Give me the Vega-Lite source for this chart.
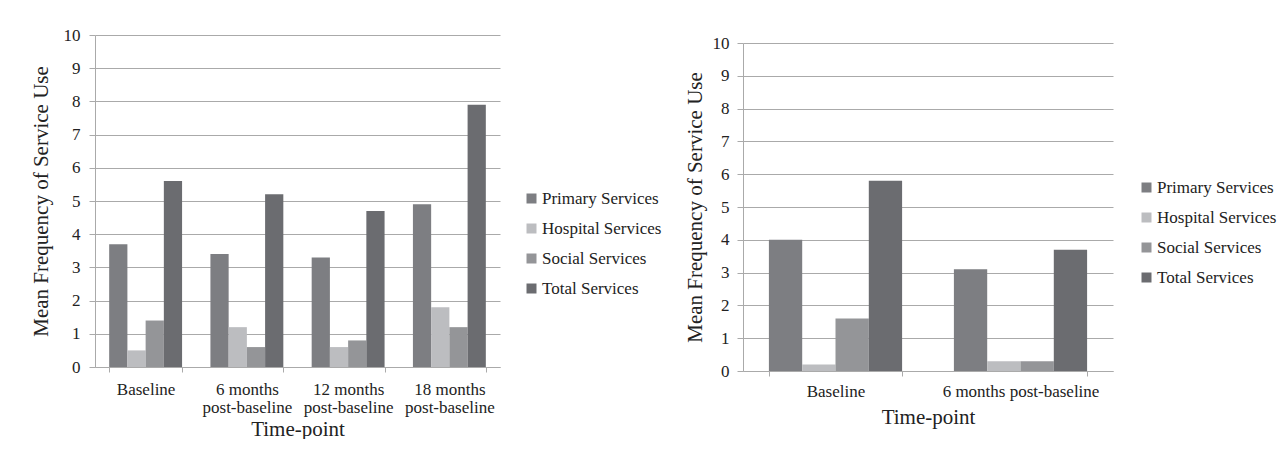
{
  "$schema": "https://vega.github.io/schema/vega-lite/v6.json",
  "background": "white",
  "padding": {"left": 30, "top": 26, "right": 0, "bottom": 0},
  "bounds": "flush",
  "spacing": 243,
  "datasets": {
    "left": [
      {"timepoint": "Baseline", "service": "Primary Services", "value": 3.7},
      {"timepoint": "Baseline", "service": "Hospital Services", "value": 0.5},
      {"timepoint": "Baseline", "service": "Social Services", "value": 1.4},
      {"timepoint": "Baseline", "service": "Total Services", "value": 5.6},
      {"timepoint": "6 months post-baseline", "service": "Primary Services", "value": 3.4},
      {"timepoint": "6 months post-baseline", "service": "Hospital Services", "value": 1.2},
      {"timepoint": "6 months post-baseline", "service": "Social Services", "value": 0.6},
      {"timepoint": "6 months post-baseline", "service": "Total Services", "value": 5.2},
      {"timepoint": "12 months post-baseline", "service": "Primary Services", "value": 3.3},
      {"timepoint": "12 months post-baseline", "service": "Hospital Services", "value": 0.6},
      {"timepoint": "12 months post-baseline", "service": "Social Services", "value": 0.8},
      {"timepoint": "12 months post-baseline", "service": "Total Services", "value": 4.7},
      {"timepoint": "18 months post-baseline", "service": "Primary Services", "value": 4.9},
      {"timepoint": "18 months post-baseline", "service": "Hospital Services", "value": 1.8},
      {"timepoint": "18 months post-baseline", "service": "Social Services", "value": 1.2},
      {"timepoint": "18 months post-baseline", "service": "Total Services", "value": 7.9}
    ],
    "right": [
      {"timepoint": "Baseline", "service": "Primary Services", "value": 4.0},
      {"timepoint": "Baseline", "service": "Hospital Services", "value": 0.2},
      {"timepoint": "Baseline", "service": "Social Services", "value": 1.6},
      {"timepoint": "Baseline", "service": "Total Services", "value": 5.8},
      {"timepoint": "6 months post-baseline", "service": "Primary Services", "value": 3.1},
      {"timepoint": "6 months post-baseline", "service": "Hospital Services", "value": 0.3},
      {"timepoint": "6 months post-baseline", "service": "Social Services", "value": 0.3},
      {"timepoint": "6 months post-baseline", "service": "Total Services", "value": 3.7}
    ]
  },
  "config": {
    "font": "Liberation Serif",
    "view": {"stroke": null},
    "axis": {
      "labelFont": "Liberation Serif",
      "titleFont": "Liberation Serif",
      "labelColor": "#222222",
      "titleColor": "#222222",
      "labelFontSize": 17,
      "titleFontSize": 21,
      "titleFontWeight": "normal",
      "domainColor": "#aaaaaa",
      "tickColor": "#aaaaaa",
      "gridColor": "#aaaaaa",
      "gridWidth": 1
    },
    "legend": {
      "labelFont": "Liberation Serif",
      "labelFontSize": 17,
      "labelColor": "#222222",
      "symbolType": "square",
      "symbolSize": 100,
      "symbolStrokeWidth": 0,
      "labelOffset": 2,
      "rowPadding": 12,
      "padding": 0
    }
  },
  "hconcat": [
    {
      "width": 405,
      "height": 332,
      "data": {"name": "left"},
      "mark": {"type": "bar"},
      "encoding": {
        "x": {
          "field": "timepoint",
          "type": "nominal",
          "sort": null,
          "title": "Time-point",
          "scale": {"paddingInner": 0.28, "paddingOuter": 0.14},
          "axis": {
            "labelAngle": 0,
            "tickBand": "extent",
            "tickSize": 5,
            "labelPadding": 9,
            "labelLineHeight": 18,
            "labelBaseline": "top",
            "labelExpr": "datum.value ? split(replace(datum.value, ' post-', '|post-'), '|') : ''",
            "titlePadding": 3
          }
        },
        "xOffset": {
          "field": "service",
          "sort": ["Primary Services", "Hospital Services", "Social Services", "Total Services"],
          "scale": {"paddingInner": 0, "paddingOuter": 0}
        },
        "y": {
          "field": "value",
          "type": "quantitative",
          "title": "Mean Frequency of Service Use",
          "scale": {"domain": [0, 10]},
          "axis": {"values": [0,1,2,3,4,5,6,7,8,9,10], "tickSize": 6, "labelPadding": 9, "titlePadding": 12}
        },
        "color": {
          "field": "service",
          "type": "nominal",
          "sort": ["Primary Services", "Hospital Services", "Social Services", "Total Services"],
          "scale": {
            "domain": ["Primary Services", "Hospital Services", "Social Services", "Total Services"],
            "range": ["#7d7e82", "#bcbdc0", "#949598", "#6b6c70"]
          },
          "legend": {"title": null, "orient": "none", "legendX": 428, "legendY": 155}
        }
      }
    },
    {
      "width": 370,
      "height": 336,
      "data": {"name": "right"},
      "mark": {"type": "bar"},
      "encoding": {
        "x": {
          "field": "timepoint",
          "type": "nominal",
          "sort": null,
          "title": "Time-point",
          "scale": {"paddingInner": 0.28, "paddingOuter": 0.14},
          "axis": {
            "labelAngle": 0,
            "tickBand": "extent",
            "tickSize": 5,
            "labelPadding": 7,
            "labelBaseline": "top",
            "titlePadding": 7
          }
        },
        "xOffset": {
          "field": "service",
          "sort": ["Primary Services", "Hospital Services", "Social Services", "Total Services"],
          "scale": {"paddingInner": 0, "paddingOuter": 0}
        },
        "y": {
          "field": "value",
          "type": "quantitative",
          "title": "Mean Frequency of Service Use",
          "scale": {"domain": [0, 10], "range": [336, 8]},
          "axis": {"values": [0,1,2,3,4,5,6,7,8,9,10], "tickSize": 6, "labelPadding": 8, "titlePadding": 7}
        },
        "color": {
          "field": "service",
          "type": "nominal",
          "sort": ["Primary Services", "Hospital Services", "Social Services", "Total Services"],
          "scale": {
            "domain": ["Primary Services", "Hospital Services", "Social Services", "Total Services"],
            "range": ["#7d7e82", "#bcbdc0", "#949598", "#6b6c70"]
          },
          "legend": {"title": null, "orient": "none", "legendX": 395, "legendY": 144}
        }
      }
    }
  ],
  "resolve": {"scale": {"color": "independent", "y": "independent", "x": "independent", "xOffset": "independent"}}
}
